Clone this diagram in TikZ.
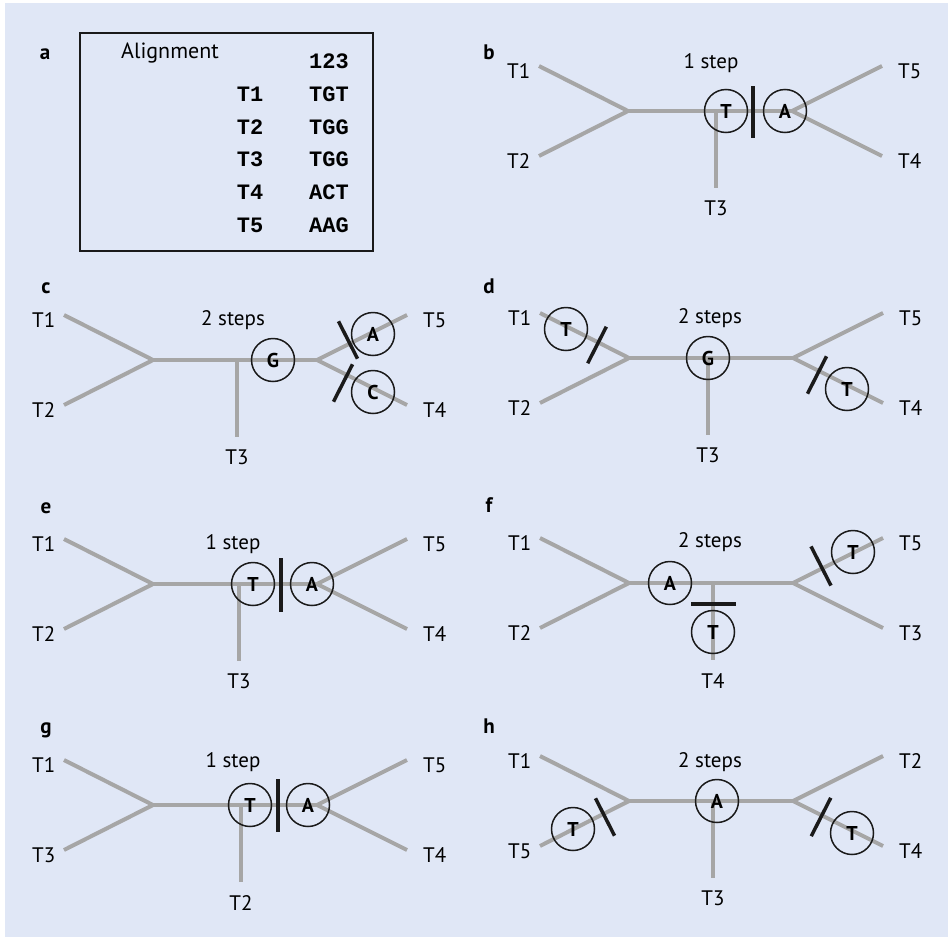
\documentclass[tikz,border=0pt]{standalone}
\usepackage{fontspec}
\setmainfont{PT Sans}
\setmonofont{Liberation Mono}
\usetikzlibrary{positioning}
\definecolor{paneblue}{HTML}{E0E7F6}
\definecolor{branchgray}{HTML}{A6A6A6}
\definecolor{ink}{HTML}{1A1A1A}
\newcommand{\unrooted}[7]{%
  \coordinate (#1-L) at (0,0);
  \coordinate (#1-R) at (164,0);
  \coordinate (#1-V) at (#2,0);
  \coordinate (#1-ul) at (-89,-45);
  \coordinate (#1-ll) at (-89,45);
  \coordinate (#1-ur) at (254,-45);
  \coordinate (#1-lr) at (254,45);
  \coordinate (#1-dn) at (#2,77);
  \draw[branch] (#1-ul) -- (#1-L) -- (#1-ll);
  \draw[branch] (#1-L) -- (#1-R);
  \draw[branch] (#1-ur) -- (#1-R) -- (#1-lr);
  \draw[branch] (#1-V) -- (#1-dn);
  \node[taxon, left=8.5pt of #1-ul, yshift=-5pt] (#1-ult) {#3};
  \node[taxon, left=8.5pt of #1-ll, yshift=-5pt] (#1-llt) {#4};
  \node[taxon, below=13pt of #1-dn] (#1-dnt) {#5};
  \node[taxon, right=16pt of #1-ur, yshift=-5pt] (#1-urt) {#6};
  \node[taxon, right=16pt of #1-lr, yshift=-5pt] (#1-lrt) {#7};
}

\begin{document}
\begin{tikzpicture}[
  x=1pt, y=-1pt,
  node distance=8pt,
  branch/.style={draw=branchgray, line width=4pt, line join=round},
  taxon/.style={inner sep=0pt, font=\fontsize{21}{24}\selectfont},
  steplabel/.style={anchor=base, inner sep=0pt, font=\fontsize{21}{24}\selectfont},
  panellabel/.style={anchor=base, inner sep=0pt, font=\bfseries\fontsize{21}{24}\selectfont},
  charstate/.style={circle, draw=ink, line width=1.5pt, minimum size=43pt, inner sep=0pt,
                    font=\bfseries\fontsize{20}{22}\selectfont},
  mutbar/.style={fill=ink, inner sep=0pt, minimum width=3.5pt},
  seq/.style={anchor=base, inner sep=0pt, font=\ttfamily\bfseries\fontsize{22}{24}\selectfont}
]
\useasboundingbox (0,0) rectangle (948,937);
\fill[paneblue] (5,3) rectangle (948,937);

% a: the alignment
\node[panellabel] (la) at (45,59) {a};
\node[draw=ink, line width=1.5pt, minimum width=293pt, minimum height=218pt] (aln) at (226.5,142) {};
\node[anchor=base, inner sep=0pt, font=\fontsize{22}{24}\selectfont] (aln-t) at (170,58.5) {Alignment};
\node[seq] (aln-c) at (329,68) {123};
\node[seq] (aln-n1) at (250,101) {T1}; \node[seq] (aln-s1) at (329,101) {TGT};
\node[seq] (aln-n2) at (250,134) {T2}; \node[seq] (aln-s2) at (329,134) {TGG};
\node[seq] (aln-n3) at (250,166) {T3}; \node[seq] (aln-s3) at (329,166) {TGG};
\node[seq] (aln-n4) at (250,199) {T4}; \node[seq] (aln-s4) at (329,199) {ACT};
\node[seq] (aln-n5) at (250,232) {T5}; \node[seq] (aln-s5) at (329,232) {AAG};

% b
\node[panellabel] (lb) at (489,59) {b};
\begin{scope}[shift={(628,111)}]
  \unrooted{b}{88}{T1}{T2}{T3}{T5}{T4}
  \node[charstate] (b-s1) at (98,0) {T};
  \node[charstate] (b-s2) at (157,0) {A};
  \node[mutbar, minimum height=52pt] (b-m1) at (125,1) {};
  \node[steplabel] (b-n) at (83,-43) {1 step};
\end{scope}

% c
\node[panellabel] (lc) at (46,293) {c};
\begin{scope}[shift={(153,360)}]
  \unrooted{c}{84}{T1}{T2}{T3}{T5}{T4}
  \node[charstate] (c-s1) at (120,0) {G};
  \node[charstate] (c-s2) at (220,-26) {A};
  \node[charstate] (c-s3) at (220,32) {C};
  \node[mutbar, minimum height=42pt, rotate=27] (c-m1) at (195,-20) {};
  \node[mutbar, minimum height=42pt, rotate=-27] (c-m2) at (190,23) {};
  \node[steplabel] (c-n) at (80,-35) {2 steps};
\end{scope}

% d
\node[panellabel] (ld) at (489,293) {d};
\begin{scope}[shift={(629,358)}]
  \unrooted{d}{79}{T1}{T2}{T3}{T5}{T4}
  \node[charstate] (d-s1) at (79,0) {G};
  \node[charstate] (d-s2) at (-63,-29) {T};
  \node[charstate] (d-s3) at (218,31) {T};
  \node[mutbar, minimum height=41pt, rotate=-27] (d-m1) at (-32,-13) {};
  \node[mutbar, minimum height=42pt, rotate=-27] (d-m2) at (188,17) {};
  \node[steplabel] (d-n) at (81,-35) {2 steps};
\end{scope}

% e
\node[panellabel] (le) at (46,513) {e};
\begin{scope}[shift={(153,584)}]
  \unrooted{e}{86}{T1}{T2}{T3}{T5}{T4}
  \node[charstate] (e-s1) at (100,0) {T};
  \node[charstate] (e-s2) at (159,0) {A};
  \node[mutbar, minimum height=54pt] (e-m1) at (128,1) {};
  \node[steplabel] (e-n) at (80,-35) {1 step};
\end{scope}

% f
\node[panellabel] (lf) at (489,512) {f};
\begin{scope}[shift={(629,583)}]
  \unrooted{f}{84}{T1}{T2}{T4}{T5}{T3}
  \node[charstate] (f-s1) at (41,0) {A};
  \node[charstate] (f-s2) at (84,49) {T};
  \node[charstate] (f-s3) at (224,-31) {T};
  \node[mutbar, minimum height=45pt, rotate=90] (f-m1) at (84,21) {};
  \node[mutbar, minimum height=44pt, rotate=27] (f-m2) at (192,-17) {};
  \node[steplabel] (f-n) at (81,-36) {2 steps};
\end{scope}

% g
\node[panellabel] (lg) at (46,733) {g};
\begin{scope}[shift={(153,805)}]
  \unrooted{g}{88}{T1}{T3}{T2}{T5}{T4}
  \node[charstate] (g-s1) at (97,0) {T};
  \node[charstate] (g-s2) at (155,0) {A};
  \node[mutbar, minimum height=53pt] (g-m1) at (125,0) {};
  \node[steplabel] (g-n) at (80,-38) {1 step};
\end{scope}

% h
\node[panellabel] (lh) at (489,733) {h};
\begin{scope}[shift={(629,801)}]
  \unrooted{h}{84}{T1}{T5}{T3}{T2}{T4}
  \node[charstate] (h-s1) at (88,0) {A};
  \node[charstate] (h-s2) at (-56,28) {T};
  \node[charstate] (h-s3) at (223,32) {T};
  \node[mutbar, minimum height=42pt, rotate=27] (h-m1) at (-24,16) {};
  \node[mutbar, minimum height=43pt, rotate=-27] (h-m2) at (192,16) {};
  \node[steplabel] (h-n) at (81,-34) {2 steps};
\end{scope}
\end{tikzpicture}
\end{document}
